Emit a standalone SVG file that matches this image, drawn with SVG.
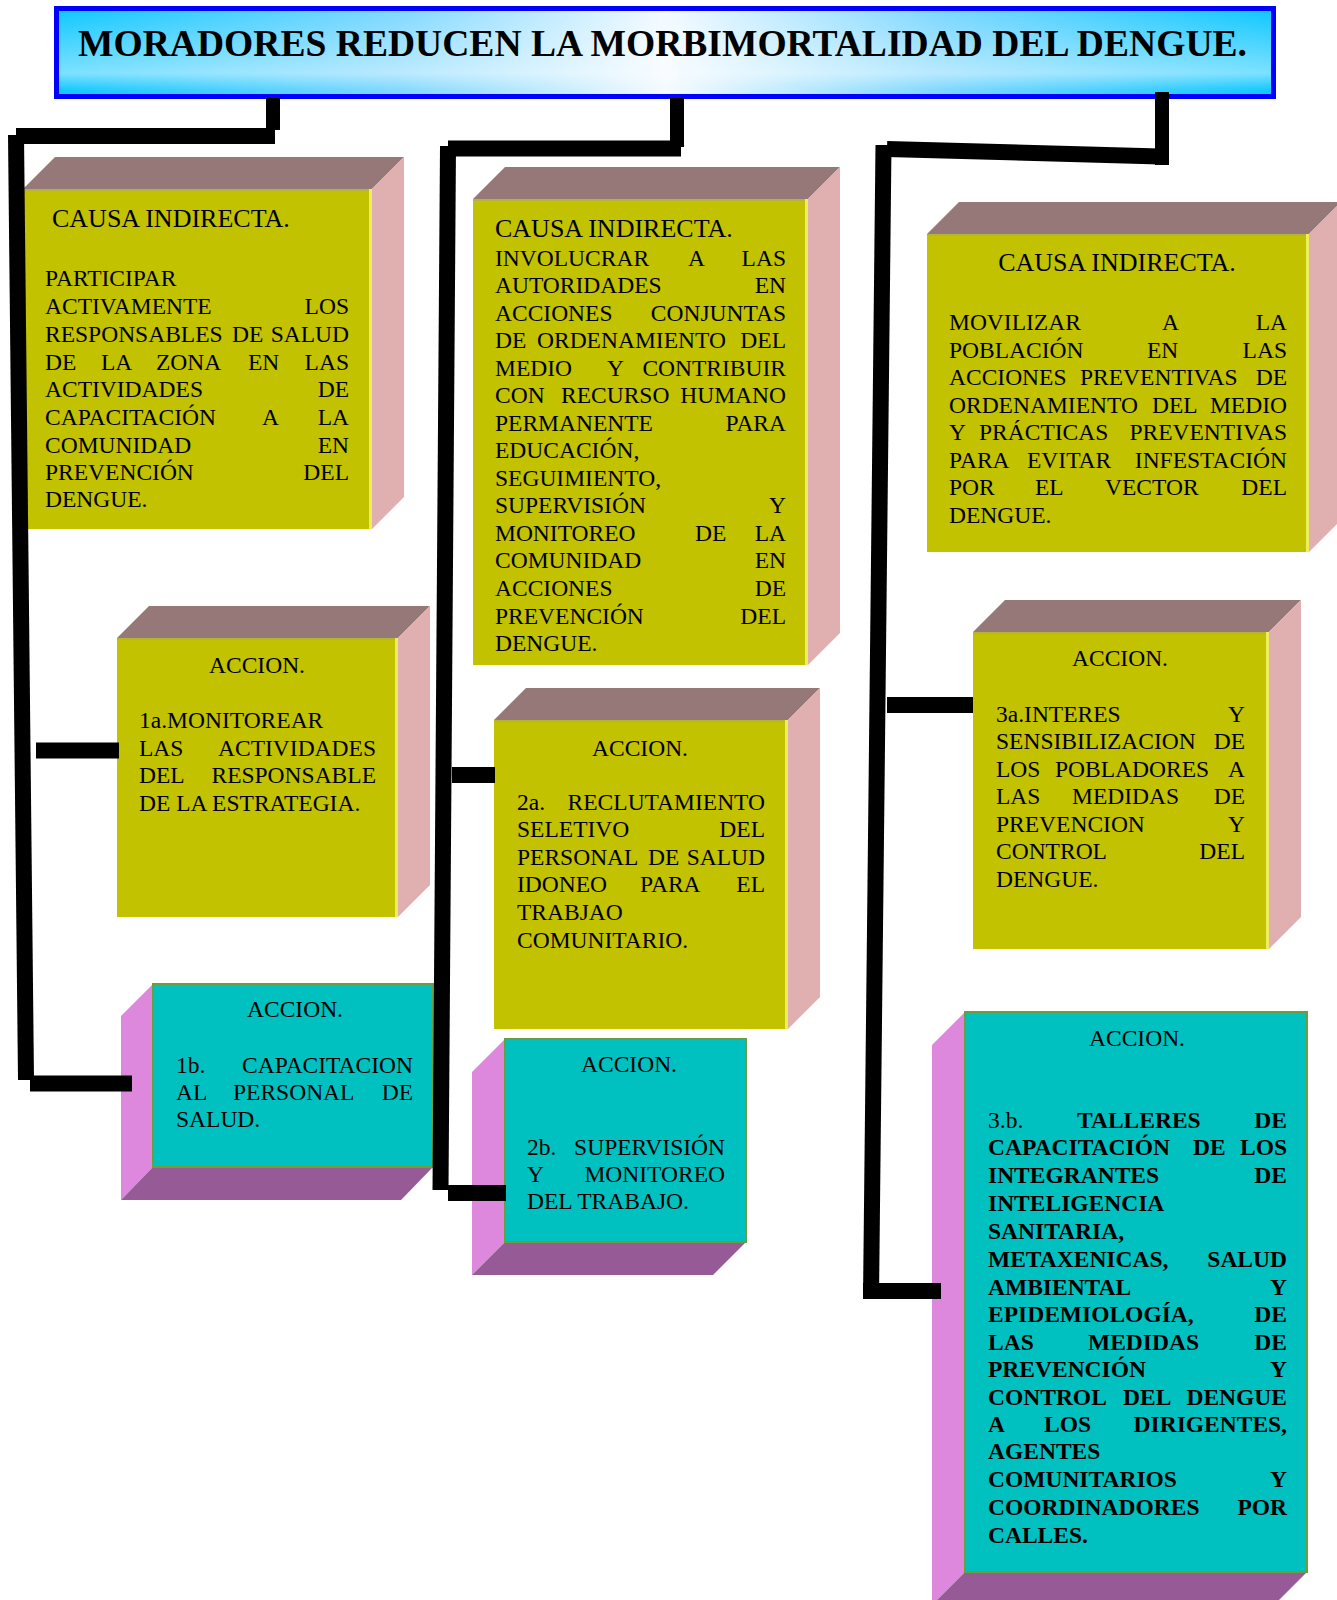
<svg xmlns="http://www.w3.org/2000/svg" width="1337" height="1600" viewBox="0 0 1337 1600">
<defs>
<linearGradient id="tg" x1="0" y1="0" x2="1" y2="0">
<stop offset="0" stop-color="#10c8ff"/>
<stop offset="0.28" stop-color="#80d8ff"/>
<stop offset="0.5" stop-color="#f4faff"/>
<stop offset="0.72" stop-color="#80d8ff"/>
<stop offset="1" stop-color="#10c8ff"/>
</linearGradient>
<linearGradient id="tv" x1="0" y1="0" x2="0" y2="1">
<stop offset="0" stop-color="#ffffff" stop-opacity="0"/>
<stop offset="0.75" stop-color="#ffffff" stop-opacity="0.45"/>
<stop offset="0.96" stop-color="#ffffff" stop-opacity="0"/>
</linearGradient>
</defs>
<style>
text{font-family:"Liberation Serif","Times New Roman",serif;font-size:23.5px;fill:#000}
.h{font-size:26px}
.c{text-anchor:middle}
.r{text-anchor:end}
.bd{font-weight:bold}
.fy{fill:#c2c200}
.top{fill:#967878}
.side{fill:#e0b0b0}
.hl{stroke:#eded60;stroke-width:3}
.te{stroke:#b4b43c;stroke-width:2}
.fc{fill:#00c0c0;stroke:#6c9e3e;stroke-width:2}
.lf{fill:#dd88dd}
.bt{fill:#965a96}
.ln{stroke:#000;stroke-width:16;fill:none}
</style>

<g id="title">
<rect x="56.5" y="8.5" width="1217" height="88" fill="url(#tg)" stroke="#0000ff" stroke-width="5"/>
<rect x="59" y="11" width="1212" height="83" fill="url(#tv)"/>
<text class="bd" x="78" y="56" style="font-size:38px" textLength="1169" lengthAdjust="spacingAndGlyphs">MORADORES REDUCEN LA MORBIMORTALIDAD DEL DENGUE.</text>
</g>

<g id="causa1">
<polygon class="top" points="23,189 55,157 404,157 372,189"/>
<polygon class="side" points="372,189 404,157 404,497 372,529"/>
<rect class="fy" x="23" y="189" width="349" height="340"/>
<line class="te" x1="23" y1="190" x2="372" y2="190"/>
<line class="hl" x1="370.5" y1="189" x2="370.5" y2="529"/>
<text class="h" x="52" y="227">CAUSA INDIRECTA.</text>
<text x="45" y="286">PARTICIPAR</text>
<text x="45" y="314">ACTIVAMENTE</text><text class="r" x="349" y="314">LOS</text>
<text x="45" y="342">RESPONSABLES<tspan x="232">DE</tspan></text><text class="r" x="349" y="342">SALUD</text>
<text x="45" y="370">DE<tspan x="101">LA</tspan><tspan x="156">ZONA</tspan><tspan x="248">EN</tspan></text><text class="r" x="349" y="370">LAS</text>
<text x="45" y="397">ACTIVIDADES</text><text class="r" x="349" y="397">DE</text>
<text x="45" y="425">CAPACITACIÓN<tspan x="262">A</tspan></text><text class="r" x="349" y="425">LA</text>
<text x="45" y="453">COMUNIDAD</text><text class="r" x="349" y="453">EN</text>
<text x="45" y="480">PREVENCIÓN</text><text class="r" x="349" y="480">DEL</text>
<text x="45" y="507">DENGUE.</text>
</g>

<g id="causa2">
<polygon class="top" points="473,199 505,167 840,167 808,199"/>
<polygon class="side" points="808,199 840,167 840,633 808,665"/>
<rect class="fy" x="473" y="199" width="335" height="466"/>
<line class="te" x1="473" y1="200" x2="808" y2="200"/>
<line class="hl" x1="806.5" y1="199" x2="806.5" y2="665"/>
<text class="h" x="495" y="237">CAUSA INDIRECTA.</text>
<text x="495" y="266">INVOLUCRAR<tspan x="688">A</tspan></text><text class="r" x="786" y="266">LAS</text>
<text x="495" y="293">AUTORIDADES</text><text class="r" x="786" y="293">EN</text>
<text x="495" y="321">ACCIONES</text><text class="r" x="786" y="321">CONJUNTAS</text>
<text x="495" y="348">DE<tspan x="537">ORDENAMIENTO</tspan></text><text class="r" x="786" y="348">DEL</text>
<text x="495" y="376">MEDIO<tspan x="607">Y</tspan></text><text class="r" x="786" y="376">CONTRIBUIR</text>
<text x="495" y="403">CON<tspan x="561">RECURSO</tspan></text><text class="r" x="786" y="403">HUMANO</text>
<text x="495" y="431">PERMANENTE</text><text class="r" x="786" y="431">PARA</text>
<text x="495" y="458">EDUCACIÓN,</text>
<text x="495" y="486">SEGUIMIENTO,</text>
<text x="495" y="513">SUPERVISIÓN</text><text class="r" x="786" y="513">Y</text>
<text x="495" y="541">MONITOREO<tspan x="695">DE</tspan></text><text class="r" x="786" y="541">LA</text>
<text x="495" y="568">COMUNIDAD</text><text class="r" x="786" y="568">EN</text>
<text x="495" y="596">ACCIONES</text><text class="r" x="786" y="596">DE</text>
<text x="495" y="624">PREVENCIÓN</text><text class="r" x="786" y="624">DEL</text>
<text x="495" y="651">DENGUE.</text>
</g>

<g id="causa3">
<polygon class="top" points="927,234 959,202 1341,202 1309,234"/>
<polygon class="side" points="1309,234 1341,202 1341,520 1309,552"/>
<rect class="fy" x="927" y="234" width="382" height="318"/>
<line class="te" x1="927" y1="235" x2="1309" y2="235"/>
<line class="hl" x1="1307.5" y1="234" x2="1307.5" y2="552"/>
<text class="h c" x="1117" y="271">CAUSA INDIRECTA.</text>
<text x="949" y="330">MOVILIZAR<tspan x="1162">A</tspan></text><text class="r" x="1287" y="330">LA</text>
<text x="949" y="358">POBLACIÓN<tspan x="1147">EN</tspan></text><text class="r" x="1287" y="358">LAS</text>
<text x="949" y="385">ACCIONES<tspan x="1080">PREVENTIVAS</tspan></text><text class="r" x="1287" y="385">DE</text>
<text x="949" y="413">ORDENAMIENTO<tspan x="1152">DEL</tspan></text><text class="r" x="1287" y="413">MEDIO</text>
<text x="949" y="440">Y<tspan x="979">PRÁCTICAS</tspan></text><text class="r" x="1287" y="440">PREVENTIVAS</text>
<text x="949" y="468">PARA<tspan x="1027">EVITAR</tspan></text><text class="r" x="1287" y="468">INFESTACIÓN</text>
<text x="949" y="495">POR<tspan x="1035">EL</tspan><tspan x="1105">VECTOR</tspan></text><text class="r" x="1287" y="495">DEL</text>
<text x="949" y="523">DENGUE.</text>
</g>

<g id="accion1a">
<polygon class="top" points="117,638 149,606 430,606 398,638"/>
<polygon class="side" points="398,638 430,606 430,885 398,917"/>
<rect class="fy" x="117" y="638" width="281" height="279"/>
<line class="te" x1="117" y1="639" x2="398" y2="639"/>
<line class="hl" x1="396.5" y1="638" x2="396.5" y2="917"/>
<text class="c" x="257" y="673">ACCION.</text>
<text x="139" y="728">1a.MONITOREAR</text>
<text x="139" y="756">LAS</text><text class="r" x="376" y="756">ACTIVIDADES</text>
<text x="139" y="783">DEL</text><text class="r" x="376" y="783">RESPONSABLE</text>
<text x="139" y="811">DE LA ESTRATEGIA.</text>
</g>

<g id="accion2a">
<polygon class="top" points="494,720 526,688 820,688 788,720"/>
<polygon class="side" points="788,720 820,688 820,997 788,1029"/>
<rect class="fy" x="494" y="720" width="294" height="309"/>
<line class="te" x1="494" y1="721" x2="788" y2="721"/>
<line class="hl" x1="786.5" y1="720" x2="786.5" y2="1029"/>
<text class="c" x="640" y="756">ACCION.</text>
<text x="517" y="810">2a.</text><text class="r" x="765" y="810">RECLUTAMIENTO</text>
<text x="517" y="837">SELETIVO</text><text class="r" x="765" y="837">DEL</text>
<text x="517" y="865">PERSONAL<tspan x="648">DE</tspan></text><text class="r" x="765" y="865">SALUD</text>
<text x="517" y="892">IDONEO<tspan x="640">PARA</tspan></text><text class="r" x="765" y="892">EL</text>
<text x="517" y="920">TRABJAO</text>
<text x="517" y="948">COMUNITARIO.</text>
</g>

<g id="accion3a">
<polygon class="top" points="973,632 1005,600 1301,600 1269,632"/>
<polygon class="side" points="1269,632 1301,600 1301,917 1269,949"/>
<rect class="fy" x="973" y="632" width="296" height="317"/>
<line class="te" x1="973" y1="633" x2="1269" y2="633"/>
<line class="hl" x1="1267.5" y1="632" x2="1267.5" y2="949"/>
<text class="c" x="1120" y="666">ACCION.</text>
<text x="996" y="722">3a.INTERES</text><text class="r" x="1245" y="722">Y</text>
<text x="996" y="749">SENSIBILIZACION</text><text class="r" x="1245" y="749">DE</text>
<text x="996" y="777">LOS<tspan x="1055">POBLADORES</tspan></text><text class="r" x="1245" y="777">A</text>
<text x="996" y="804">LAS<tspan x="1072">MEDIDAS</tspan></text><text class="r" x="1245" y="804">DE</text>
<text x="996" y="832">PREVENCION</text><text class="r" x="1245" y="832">Y</text>
<text x="996" y="859">CONTROL</text><text class="r" x="1245" y="859">DEL</text>
<text x="996" y="887">DENGUE.</text>
</g>

<g id="accion1b">
<polygon class="lf" points="153,984 121,1016 121,1200 153,1167"/>
<polygon class="bt" points="153,1167 433,1167 401,1200 121,1200"/>
<rect class="fc" x="153" y="984" width="280" height="183"/>
<text class="c" x="295" y="1017">ACCION.</text>
<text x="176" y="1073">1b.</text><text class="r" x="413" y="1073">CAPACITACION</text>
<text x="176" y="1100">AL<tspan x="233">PERSONAL</tspan></text><text class="r" x="413" y="1100">DE</text>
<text x="176" y="1127">SALUD.</text>
</g>

<g id="accion2b">
<polygon class="lf" points="505,1039 472,1072 472,1275 505,1242"/>
<polygon class="bt" points="505,1242 746,1242 713,1275 472,1275"/>
<rect class="fc" x="505" y="1039" width="241" height="203"/>
<text class="c" x="629" y="1072">ACCION.</text>
<text x="527" y="1155">2b.</text><text class="r" x="725" y="1155">SUPERVISIÓN</text>
<text x="527" y="1182">Y</text><text class="r" x="725" y="1182">MONITOREO</text>
<text x="527" y="1209">DEL TRABAJO.</text>
</g>

<g id="accion3b">
<polygon class="lf" points="965,1012 932,1045 932,1605 965,1572"/>
<polygon class="bt" points="965,1572 1307,1572 1274,1605 932,1605"/>
<rect class="fc" x="965" y="1012" width="342" height="560"/>
<text class="c" x="1137" y="1046">ACCION.</text>
<text x="988" y="1127.5">3.b.<tspan class="bd" x="1077">TALLERES</tspan></text><text class="r bd" x="1287" y="1127.5">DE</text>
<text class="bd" x="988" y="1155">CAPACITACIÓN<tspan x="1193">DE</tspan></text><text class="r bd" x="1287" y="1155">LOS</text>
<text class="bd" x="988" y="1183">INTEGRANTES</text><text class="r bd" x="1287" y="1183">DE</text>
<text class="bd" x="988" y="1210.5">INTELIGENCIA</text>
<text class="bd" x="988" y="1239">SANITARIA,</text>
<text class="bd" x="988" y="1267">METAXENICAS,</text><text class="r bd" x="1287" y="1267">SALUD</text>
<text class="bd" x="988" y="1295">AMBIENTAL</text><text class="r bd" x="1287" y="1295">Y</text>
<text class="bd" x="988" y="1322">EPIDEMIOLOGÍA,</text><text class="r bd" x="1287" y="1322">DE</text>
<text class="bd" x="988" y="1349.5">LAS<tspan x="1088">MEDIDAS</tspan></text><text class="r bd" x="1287" y="1349.5">DE</text>
<text class="bd" x="988" y="1377">PREVENCIÓN</text><text class="r bd" x="1287" y="1377">Y</text>
<text class="bd" x="988" y="1404.5">CONTROL<tspan x="1123">DEL</tspan></text><text class="r bd" x="1287" y="1404.5">DENGUE</text>
<text class="bd" x="988" y="1432">A<tspan x="1044">LOS</tspan></text><text class="r bd" x="1287" y="1432">DIRIGENTES,</text>
<text class="bd" x="988" y="1459">AGENTES</text>
<text class="bd" x="988" y="1487">COMUNITARIOS</text><text class="r bd" x="1287" y="1487">Y</text>
<text class="bd" x="988" y="1515">COORDINADORES</text><text class="r bd" x="1287" y="1515">POR</text>
<text class="bd" x="988" y="1542.5">CALLES.</text>
</g>

<g id="connectors">
<line class="ln" x1="273" y1="98" x2="273" y2="130" style="stroke-width:14"/>
<line class="ln" x1="16" y1="136" x2="275" y2="136"/>
<line class="ln" x1="16" y1="135" x2="26" y2="1080"/>
<line class="ln" x1="36" y1="750.5" x2="119" y2="750.5"/>
<line class="ln" x1="30" y1="1083.5" x2="132" y2="1083.5"/>

<line class="ln" x1="677" y1="98" x2="677" y2="147" style="stroke-width:14"/>
<line class="ln" x1="448" y1="148.5" x2="681" y2="148.5"/>
<line class="ln" x1="448" y1="146" x2="440.5" y2="1190"/>
<line class="ln" x1="452" y1="775" x2="495" y2="775"/>
<line class="ln" x1="448" y1="1193" x2="506" y2="1193"/>

<line class="ln" x1="1162" y1="92" x2="1162" y2="165" style="stroke-width:14"/>
<line class="ln" x1="887" y1="149" x2="1160" y2="156.5"/>
<line class="ln" x1="883.5" y1="145" x2="871" y2="1298"/>
<line class="ln" x1="887" y1="705" x2="973" y2="705"/>
<line class="ln" x1="863" y1="1291" x2="941" y2="1291"/>
</g>
</svg>
